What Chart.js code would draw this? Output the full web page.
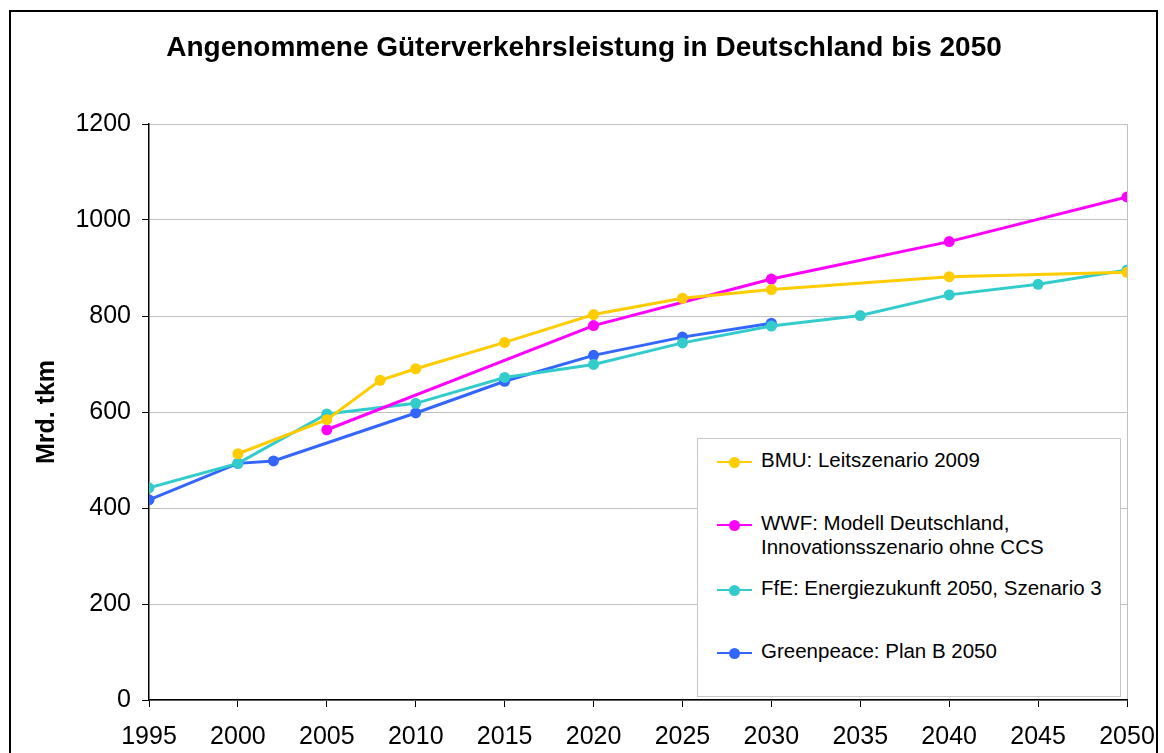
<!DOCTYPE html>
<html>
<head>
<meta charset="utf-8">
<script src="https://cdn.jsdelivr.net/npm/chart.js@4"></script>
<style>
  body { margin: 0; background: #fff; font-family: "Liberation Sans", Arial, sans-serif; }
  #frame { position: absolute; left: 9px; top: 10px; width: 1145px; height: 800px; border: 2px solid #000; }
  #wrap { position: absolute; left: 0; top: 0; width: 1164px; height: 753px; }
  #title { position: absolute; left: 0; top: 31px; width: 1168px; text-align: center;
           font-weight: bold; font-size: 28px; color: #000; }
  #legend { position: absolute; left: 697px; top: 438px; width: 422px; height: 257px;
            border: 1px solid #c8c8c8; background: #fff; font-size: 20.5px; color: #000; }
  .item { position: absolute; left: 19px; }
  .mark { position: absolute; left: 0; width: 35px; height: 2px; }
  .mark i { position: absolute; left: 12px; top: -4px; width: 11px; height: 11px; border-radius: 50%; }
  .txt { position: absolute; left: 44px; white-space: nowrap; line-height: 24px; }
</style>
</head>
<body>
<div id="frame"></div>
<div id="wrap"><canvas id="c" width="1164" height="753"></canvas></div>
<div id="title">Angenommene Güterverkehrsleistung in Deutschland bis 2050</div>
<div id="legend"></div>
<script>
// Jahre und Werte (Mrd. tkm) je Szenario
var bmuYears = [2000, 2005, 2008, 2010, 2015, 2020, 2025, 2030, 2040, 2050];
var bmuValues = [513, 584, 666, 690, 745, 803, 837, 855, 882, 891];

var wwfYears = [2005, 2020, 2030, 2040, 2050];
var wwfValues = [563, 780, 877, 955, 1048];

var ffeYears = [1995, 2000, 2005, 2010, 2015, 2020, 2025, 2030, 2035, 2040, 2045, 2050];
var ffeValues = [442, 493, 596, 618, 672, 699, 744, 779, 801, 844, 866, 896];

var gpYears = [1995, 2000, 2002, 2010, 2015, 2020, 2025, 2030];
var gpValues = [417, 493, 498, 598, 664, 718, 756, 785];

var labels = ['BMU: Leitszenario 2009',
              'WWF: Modell Deutschland,\nInnovationsszenario ohne CCS',
              'FfE: Energiezukunft 2050, Szenario 3',
              'Greenpeace: Plan B 2050'];
var colors = ['#FFCC00', '#FF00FF', '#33CCCC', '#3366FF'];

function pts(xs, ys) {
  return xs.map(function (x, i) { return {x: x, y: ys[i]}; });
}

function makeSet(i, xs, ys) {
  return {
    label: labels[i],
    data: pts(xs, ys),
    borderColor: colors[i],
    backgroundColor: colors[i],
    borderWidth: 3,
    pointRadius: 5.5,
    pointBorderWidth: 0,
    tension: 0,
    fill: false
  };
}

var tickFont = {family: '"Liberation Sans", Arial, sans-serif', size: 25};

var config = {
  type: 'line',
  data: {
    datasets: [
      makeSet(0, bmuYears, bmuValues),
      makeSet(1, wwfYears, wwfValues),
      makeSet(2, ffeYears, ffeValues),
      makeSet(3, gpYears, gpValues)
    ]
  },
  options: {
    responsive: false,
    animation: false,
    layout: {padding: {left: 28, top: 124, right: 37, bottom: 0}},
    plugins: {legend: {display: false}, title: {display: false}, tooltip: {enabled: false}},
    scales: {
      x: {
        type: 'linear', min: 1995, max: 2050,
        ticks: {stepSize: 5, color: '#000', font: tickFont, padding: 15, maxRotation: 0,
                callback: function (v) { return String(v); }},
        grid: {
          color: function (ctx) { return ctx.tick && ctx.tick.value === 2050 ? '#c0c0c0' : 'rgba(0,0,0,0)'; },
          tickColor: '#000', tickLength: 7
        },
        border: {color: '#000', width: 1.5},
        afterFit: function (s) { s.height = 53; s.paddingRight = 20; s.paddingLeft = 20; }
      },
      y: {
        min: 0, max: 1200,
        ticks: {stepSize: 200, color: '#000', font: tickFont, padding: 11,
                callback: function (v) { return String(v); }},
        grid: {color: '#c0c0c0', tickColor: '#000', tickLength: 7},
        border: {color: '#000', width: 1.5},
        title: {display: true, text: 'Mrd. tkm', color: '#000',
                font: {family: '"Liberation Sans", Arial, sans-serif', size: 25, weight: 'bold'},
                padding: {top: 4, bottom: 4}},
        afterFit: function (s) { s.width = 121; }
      }
    }
  }
};

window.myLine = new Chart(document.getElementById('c'), config);

// Legende als HTML
var rows = [22, 85, 150, 213];
var box = document.getElementById('legend');
labels.forEach(function (t, i) {
  var d = document.createElement('div');
  d.className = 'item';
  d.style.top = rows[i] + 'px';
  d.innerHTML = '<div class="mark" style="background:' + colors[i] + '"><i style="background:' + colors[i] + '"></i></div>' +
                '<div class="txt" style="top:-13px">' + t.replace('\n', '<br>') + '</div>';
  box.appendChild(d);
});
</script>
</body>
</html>
